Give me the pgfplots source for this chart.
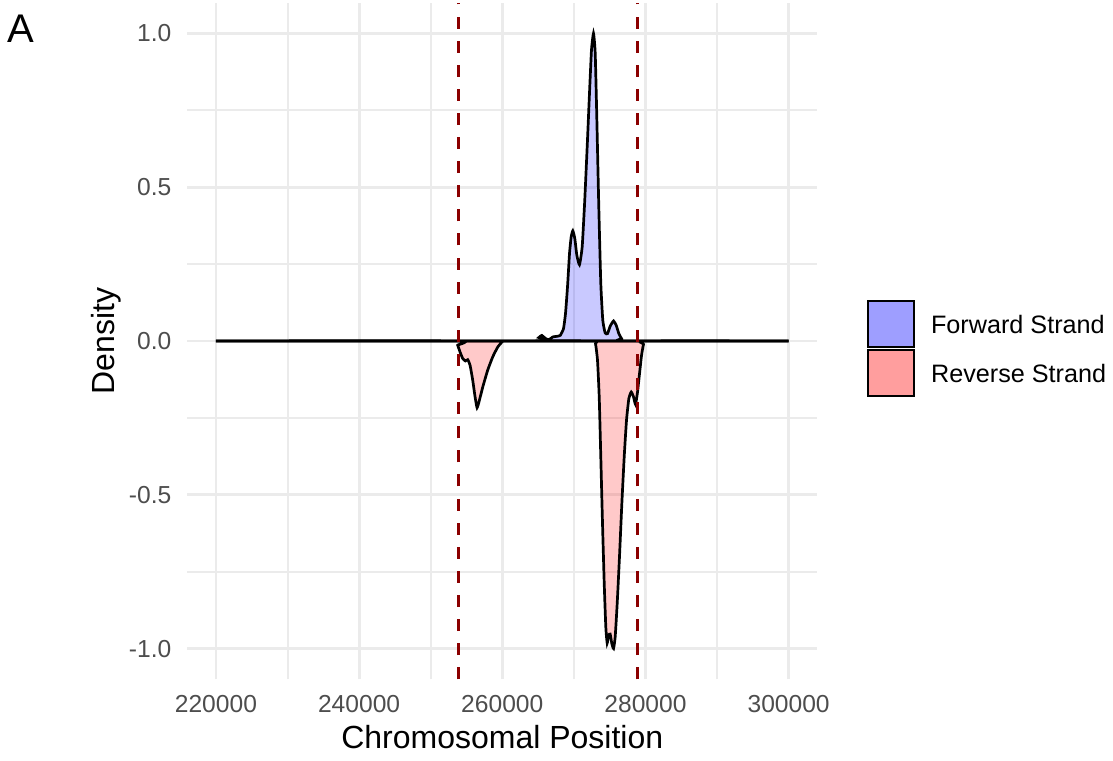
\documentclass[border=0pt]{standalone}
\usepackage{fontspec}
\setmainfont{Liberation Sans}
\usepackage{pgfplots}
\pgfplotsset{compat=1.18}
\definecolor{gridgrey}{RGB}{235,235,235}
\definecolor{tickgrey}{RGB}{77,77,77}
\definecolor{vlinered}{RGB}{139,0,0}

\begin{document}
\begin{tikzpicture}
\useasboundingbox (0,0) rectangle (556.5pt,380pt);
\node[anchor=base west, inner sep=0pt, font=\fontsize{20}{24}\selectfont] at (3.3pt,358.65pt) {A};
\begin{axis}[
  at={(93.65pt,40.35pt)}, anchor=south west,
  width=315pt, height=338.35pt, scale only axis,
  xmin=216000, xmax=304000,
  ymin=-1.1, ymax=1.1,
  axis line style={draw=none},
  major tick length=0pt, minor tick length=0pt,
  scaled x ticks=false, scaled y ticks=false,
  xtick={220000,240000,260000,280000,300000},
  xticklabels={220000,240000,260000,280000,300000},
  ytick={-1,-0.5,0,0.5,1},
  yticklabels={-1.0,-0.5,0.0,0.5,1.0},
  minor x tick num=1, minor y tick num=1,
  grid=both,
  major grid style={color=gridgrey, line width=1.4pt},
  minor grid style={color=gridgrey, line width=1pt},
  tick label style={font=\fontsize{12.3}{14}\selectfont, text=tickgrey, inner sep=0pt},
  xticklabel style={anchor=north, yshift=-7.8pt},
  yticklabel style={anchor=east, xshift=-7.8pt},
  xlabel={Chromosomal Position},
  ylabel={Density},
  label style={font=\fontsize{16}{19}\selectfont, inner sep=0pt},
  xlabel style={at={(axis description cs:0.5,-0.102)}, anchor=base},
  ylabel style={at={(axis description cs:-0.1148,0.5)}, anchor=base},
  legend cell align=left,
  legend style={draw=none, fill=none, inner sep=0pt, outer sep=0pt,
    at={(1.0784,0.5605)}, anchor=north west,
    row sep=0.5pt, column sep=8.2pt,
    nodes={inner sep=0pt, text depth=0pt},
    font=\fontsize{12.6}{15}\selectfont},
  legend image code/.code={
    \draw[#1, draw=black, line width=1pt, fill opacity=0.38]
      (0pt,-11.5pt) rectangle (23pt,11.5pt);},
]
% forward strand density
\addplot[draw=black, line width=1.35pt, fill=blue, fill opacity=0.21, smooth, tension=0.3] coordinates {
  (220000,0) (264730,0) (265100,0.011) (265520,0.018) (266030,0.008)
  (266500,0.004) (267060,0.013) (267610,0.015) (268090,0.018) (268550,0.040)
  (268830,0.089) (269110,0.176) (269390,0.284) (269620,0.338) (269850,0.358)
  (270130,0.333) (270410,0.279) (270780,0.248) (271160,0.306) (271520,0.458)
  (271900,0.653) (272180,0.805) (272460,0.946) (272740,1.000) (272980,0.935)
  (273200,0.729) (273480,0.436) (273760,0.187) (274040,0.067) (274370,0.026)
  (274700,0.024) (275070,0.048) (275540,0.065) (275910,0.051) (276280,0.024)
  (276650,0.008) (277120,0) (300000,0)
} \closedcycle;
\addlegendentry{Forward Strand}
% reverse strand density
\addplot[draw=black, line width=1.35pt, fill=red, fill opacity=0.21, smooth, tension=0.3] coordinates {
  (220000,0) (253450,0) (253770,-0.014) (254100,-0.036) (254470,-0.057)
  (254850,-0.065) (255170,-0.061) (255500,-0.079) (255870,-0.128) (256200,-0.182)
  (256480,-0.217) (256800,-0.193) (257270,-0.150) (257960,-0.095) (258660,-0.052)
  (259360,-0.020) (259980,-0.003) (260340,0) (272640,0) (273020,-0.009)
  (273300,-0.063) (273540,-0.182) (273760,-0.377) (274000,-0.594) (274240,-0.789)
  (274460,-0.930) (274650,-0.982) (274840,-0.957) (275070,-0.953) (275300,-0.984)
  (275540,-1.000) (275770,-0.962) (276050,-0.854) (276370,-0.702) (276700,-0.529)
  (277030,-0.377) (277350,-0.258) (277680,-0.187) (278010,-0.166) (278330,-0.182)
  (278610,-0.206) (278890,-0.166) (279170,-0.106) (279450,-0.047) (279730,-0.011)
  (280110,0) (300000,0)
} \closedcycle;
\addlegendentry{Reverse Strand}
% region boundaries
\addplot[forget plot, color=vlinered, line width=1.6pt, dash pattern=on 6pt off 6.05pt] coordinates {(253900,-1.1) (253900,1.1)};
\addplot[forget plot, color=vlinered, line width=1.6pt, dash pattern=on 6pt off 6.05pt] coordinates {(278850,-1.1) (278850,1.1)};
\end{axis}
\end{tikzpicture}
\end{document}
